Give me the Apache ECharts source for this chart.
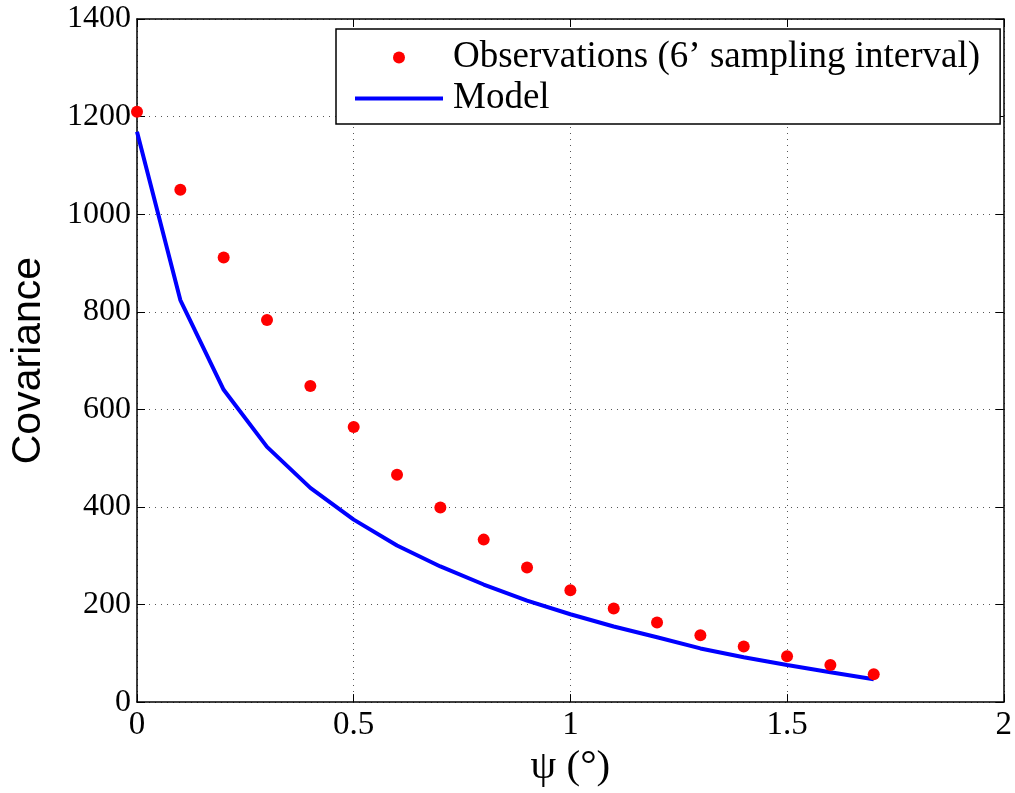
<!DOCTYPE html>
<html>
	<head>
		<meta charset="utf-8">
		<title>Covariance</title>
		<script src="https://cdn.jsdelivr.net/npm/echarts@6/dist/echarts.min.js"></script>
	</head>
	<body style="margin:0;">
		<div id="res" style="width: 1015px;height: 793px;"></div>
		<script>
			var psi = [0, 0.1, 0.2, 0.3, 0.4, 0.5, 0.6, 0.7, 0.8, 0.9, 1.0, 1.1, 1.2, 1.3, 1.4, 1.5, 1.6, 1.7];
			var observations = [1210, 1050, 911, 783, 648, 564, 466, 399, 333, 276, 229, 192, 163, 137, 114, 94, 76, 57];
			var model = [1169, 824, 640, 523, 439, 374, 321, 278, 241, 208, 180, 155, 133, 110, 92, 76, 61, 47];

			var obsData = [];
			var modelData = [];
			for(var i = 0; i < psi.length; i++) {
				obsData.push([psi[i], observations[i]]);
				modelData.push([psi[i], model[i]]);
			}

			var serif = 'Liberation Serif';
			var gridLine = {show: true, lineStyle: {color: '#555', type: [1, 5], width: 1}};
			var box = {show: true, onZero: false, lineStyle: {color: '#000', width: 1.5}};
			var ticks = {show: true, inside: true, length: 8, lineStyle: {color: '#000'}};

			var myChart = echarts.init(document.getElementById('res'));
			var option = {
				animation: false,
				backgroundColor: '#fff',
				grid: {left: 137, right: 10, top: 19, bottom: 88},
				legend: {
					orient: 'vertical',
					left: 336,
					top: 29,
					padding: [10, 20, 7, 17],
					backgroundColor: '#fff',
					borderColor: '#000',
					borderWidth: 1.5,
					borderRadius: 0,
					itemWidth: 88,
					itemHeight: 12,
					itemGap: 4,
					textStyle: {fontFamily: serif, fontSize: 37, color: '#000', padding: [0, 0, 0, 5]},
					data: [
						{name: 'Observations (6’ sampling interval)'},
						{name: 'Model', itemStyle: {color: 'transparent', borderWidth: 0}, lineStyle: {width: 4, color: '#0000ff'}}
					]
				},
				xAxis: [{
					type: 'value',
					min: 0, max: 2, interval: 0.5,
					name: 'ψ (°)',
					nameLocation: 'middle',
					nameGap: 40,
					nameTextStyle: {fontFamily: serif, fontSize: 41, color: '#000'},
					axisLine: box,
					axisTick: ticks,
					axisLabel: {fontFamily: serif, fontSize: 33, color: '#000', margin: 7},
					splitLine: gridLine
				}, {
					type: 'value', position: 'top',
					min: 0, max: 2, interval: 0.5,
					axisLine: box,
					axisTick: ticks,
					axisLabel: {show: false},
					splitLine: {show: false}
				}],
				yAxis: [{
					type: 'value',
					min: 0, max: 1400, interval: 200,
					name: 'Covariance',
					nameLocation: 'middle',
					nameGap: 88,
					nameTextStyle: {fontFamily: 'Liberation Sans', fontSize: 41, color: '#000'},
					axisLine: box,
					axisTick: ticks,
					axisLabel: {fontFamily: serif, fontSize: 32, color: '#000', margin: 6, formatter: function(v) { return String(v); }},
					splitLine: gridLine
				}, {
					type: 'value', position: 'right',
					min: 0, max: 1400, interval: 200,
					axisLine: box,
					axisTick: ticks,
					axisLabel: {show: false},
					splitLine: {show: false}
				}],
				series: [{
					name: 'Observations (6’ sampling interval)',
					type: 'scatter',
					symbol: 'circle',
					symbolSize: 12,
					itemStyle: {color: '#ff0000', opacity: 1},
					data: obsData,
					z: 3
				}, {
					name: 'Model',
					type: 'line',
					symbol: 'none',
					lineStyle: {color: '#0000ff', width: 4},
					itemStyle: {color: '#0000ff'},
					data: modelData,
					z: 2
				}]
			};
			myChart.setOption(option);
		</script>
	</body>
</html>
